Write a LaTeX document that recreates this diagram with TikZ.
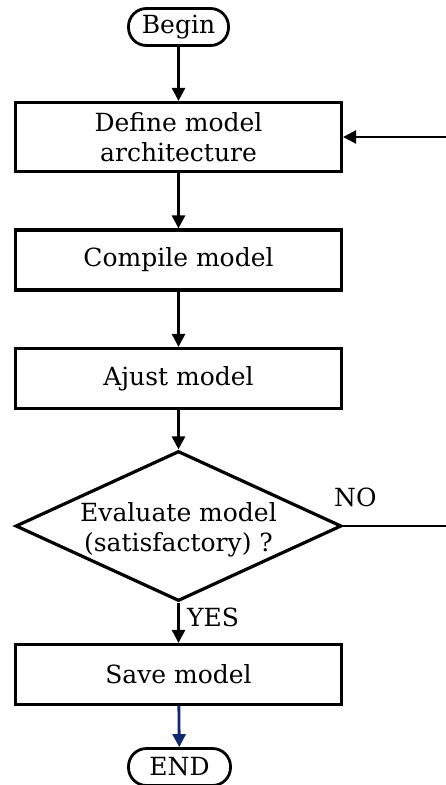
\documentclass[tikz,border=0pt]{standalone}
\usepackage{fontspec}
\setmainfont{DejaVu Serif}
\usetikzlibrary{arrows.meta,shapes.geometric}
\definecolor{navyarr}{RGB}{16,40,110}
\begin{document}
\begin{tikzpicture}[x=1pt,y=-1pt,
  every node/.style={font=\fontsize{25}{30}\selectfont},
  procbox/.style={draw,line width=3.2pt,rectangle,minimum width=326pt,inner sep=0pt,align=center},
  termbox/.style={draw,line width=2.8pt,rectangle,rounded corners=18pt,minimum width=100pt,minimum height=37pt,inner sep=0pt},
  decision/.style={draw,line width=3.2pt,diamond,minimum width=326pt,minimum height=150pt,inner sep=0pt},
  arr/.style={line width=2.8pt,-{Triangle[length=13pt,width=13pt]}},
  thinln/.style={line width=2.4pt}
]
\useasboundingbox (0,0) rectangle (446,785);
\node[termbox] (begin) at (178.5,27) {Begin};
\node[procbox,minimum height=69pt] (define) at (178.5,137) {Define model\\architecture};
\node[procbox,minimum height=60pt] (compile) at (178.5,260) {Compile model};
\node[procbox,minimum height=60pt] (ajust) at (178.5,378.5) {Ajust model};
\node[decision] (eval) at (178.5,526) {};
\node[align=center] (evaltxt) at (178.5,530) {Evaluate model\\(satisfactory) ?};
\node[procbox,minimum height=60pt] (save) at (178.5,674.5) {Save model};
\node[termbox,minimum width=102pt] (end) at (179.5,767) {END};
\node[anchor=base west,inner sep=0pt] (no) at (334,506) {NO};
\node[anchor=base west,inner sep=0pt] (yes) at (187,626) {YES};
\coordinate (fbB) at (446,526);
\coordinate (fbT) at (446,137);
\draw[arr] (begin) -- (define);
\draw[arr] (define) -- (compile);
\draw[arr] (compile) -- (ajust);
\draw[arr] (ajust) -- (eval.north);
\draw[arr] (eval.south) -- (save);
\draw[arr,navyarr] (save) -- (end);
\draw[thinln] (eval.east) -- (fbB);
\draw[arr,line width=2.4pt] (fbT) -- (define.east);
\end{tikzpicture}
\end{document}
